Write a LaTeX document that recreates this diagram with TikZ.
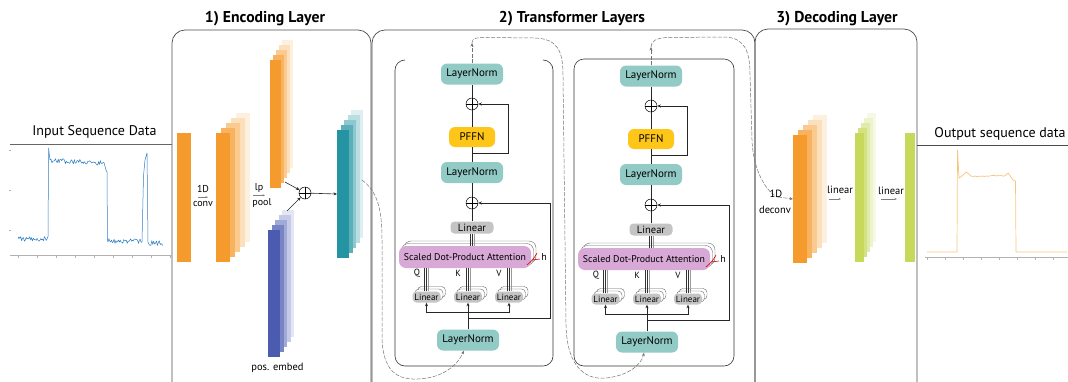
\documentclass[tikz,border=0pt]{standalone}
\usepackage{fontspec}
\setmainfont{PT Sans}
\usetikzlibrary{arrows.meta,positioning}

\definecolor{convorange}{HTML}{F59A2C}
\definecolor{posblue}{HTML}{4B5CB0}
\definecolor{encteal}{HTML}{2494A2}
\definecolor{lingreen}{HTML}{C6D95A}
\definecolor{normteal}{HTML}{92CAC6}
\definecolor{ffnyellow}{HTML}{FFC61A}
\definecolor{lingray}{HTML}{C4C4C4}
\definecolor{attnpink}{HTML}{D8A8D6}
\definecolor{sigblue}{HTML}{2F7DC1}
\definecolor{sigorange}{HTML}{F8C57C}

\tikzset{
  panel/.style={draw=black!70, line width=0.7pt, rounded corners=13pt},
  block/.style={draw=black!80, line width=0.6pt, rounded corners=10pt},
  bar/.style={inner sep=0pt, outer sep=0pt},
  lnorm/.style={fill=normteal, rounded corners=6pt, minimum width=62pt, minimum height=21pt, inner sep=0pt, font=\fontsize{11}{11}\selectfont},
  ffn/.style={fill=ffnyellow, rounded corners=6pt, minimum width=46pt, minimum height=20pt, inner sep=0pt, font=\fontsize{11}{11}\selectfont},
  lin/.style={fill=lingray, rounded corners=4pt, minimum width=43pt, minimum height=12pt, inner sep=0pt, font=\fontsize{10.5}{10}\selectfont},
  qkv/.style={lin, minimum width=28pt, minimum height=11pt, font=\fontsize{9}{9}\selectfont},
  head/.style={draw=black!60, fill=white, line width=0.4pt},
  attn/.style={fill=attnpink, rounded corners=7pt, minimum width=132pt, minimum height=22pt, inner sep=0pt, font=\fontsize{9.8}{10}\selectfont},
  add/.style={circle, draw, line width=0.5pt, minimum size=12pt, inner sep=0pt,
    path picture={\draw[line width=0.5pt] (path picture bounding box.north) -- (path picture bounding box.south)
      (path picture bounding box.west) -- (path picture bounding box.east);}},
  conn/.style={draw=black!85, line width=0.6pt},
  pair/.style={draw=black!80, line width=0.5pt},
  tip/.style={-{Stealth[length=3.5pt,width=3pt]}},
  smallarr/.style={draw=black!50, line width=0.4pt, -{Stealth[length=2.5pt,width=2pt]}},
  flow/.style={draw=black!55, line width=0.5pt, dash pattern=on 4pt off 1.5pt},
  lbl/.style={font=\fontsize{10}{10}\selectfont, inner sep=0pt},
  title/.style={font=\fontsize{15.7}{18}\selectfont\bfseries},
  axisline/.style={draw=black!30, line width=0.5pt},
  sig/.style={line width=0.5pt, line join=round},
}

% feature map stack: copies behind fade out towards the upper right
\newcommand{\featstack}[7]{% name, x, y, width, height, colour, x step
  \foreach \k/\m in {4/15,3/32,2/52,1/75}
    \fill[#6!\m!white] ({#2+#7*\k-#4/2},{#3-5*\k-#5/2}) rectangle ++(#4,#5);
  \node[bar, fill=#6, minimum width=#4pt, minimum height=#5pt] (#1) at (#2,#3) {};
}

\begin{document}
\begin{tikzpicture}[x=1pt, y=-1pt]
\useasboundingbox (0,0) rectangle (1068,381);
\clip (0,0) rectangle (1068,381);

% panels
\draw[panel] (172,30) rectangle (371,400);
\draw[panel] (372,30) rectangle (755,400);
\draw[panel] (755,29) rectangle (917,400);
\node[title] (enctitle) at (265,19) {1) Encoding Layer};
\node[title] (trftitle) at (572,19) {2) Transformer Layers};
\node[title] (dectitle) at (837,19) {3) Decoding Layer};

% input signal
\node[font=\fontsize{14}{16}\selectfont] (intitle) at (94.5,132) {Input Sequence Data};
\draw[draw=black!60, line width=0.5pt] (10,144) -- (172,144);
\draw[axisline] (10,255) -- (172,255);
\foreach \t in {18,37,...,170} \draw[axisline] (\t,255) -- (\t,257.5);
\foreach \t in {150,190,230} \draw[axisline] (8.5,\t) -- (11,\t);
\pgfmathsetseed{5}
\draw[sig, sigblue] plot[domain=18:48, samples=34] (\x,{239+2.5*rand})
  -- (48.6,148) -- (50,160)
  -- plot[domain=51:104, samples=60] (\x,{160.5+0.05*(\x-51)+2.5*rand})
  -- (106,170) -- (107,172) -- (107.5,240)
  -- plot[domain=108:142, samples=40] (\x,{241+2.5*rand})
  -- (143.5,176) -- (145,160) -- (147,153) -- (148,242)
  -- plot[domain=149:163, samples=16] (\x,{243+2.5*rand});

% encoding layer
\node[bar, fill=convorange, minimum width=14pt, minimum height=129pt] (raw) at (184,197.5) {};
\featstack{conv}{223}{197.5}{14}{129}{convorange}{5}
\featstack{pool}{275.5}{124}{11}{128}{convorange}{3}
\featstack{pos}{274}{293.5}{12}{127}{posblue}{3.5}
\node[add] (addpos) at (305,193) {};
\featstack{enc}{343}{194}{12}{128}{encteal}{3.5}

\node[lbl] (convtop) at (203,188.5) {1D};
\node[lbl] (convbot) at (203,203.5) {conv};
\draw[smallarr] ([xshift=-5pt,yshift=3.5pt]convbot.north) -- ([xshift=5pt,yshift=3.5pt]convbot.north);
\node[lbl] (pooltop) at (259,188) {lp};
\node[lbl] (poolbot) at (262,203) {pool};
\draw[smallarr] ([xshift=-9pt,yshift=3pt]poolbot.north) -- ([xshift=3pt,yshift=3pt]poolbot.north);
\node[lbl, font=\fontsize{10.5}{11}\selectfont] (postxt) at (277.5,368) {pos. embed};

\draw[conn, tip] ([xshift=4pt,yshift=6pt]pool.south east) -- (addpos);
\draw[conn, tip] ([xshift=7pt,yshift=19pt]pos.north east) -- (addpos);
\draw[conn, tip] (addpos) -- (enc.west);

% transformer blocks
\draw[block] (405,60) -- (395,60) -- (395,366) -- (553,366) -- (553,60) -- (543,60);
\draw[block] (574,59) rectangle (734,366);

\foreach \i/\dx/\dy in {1/0/0, 2/179/2} {
  \begin{scope}[shift={(\dx,\dy)}]
    \node[lnorm] (lnt\i) at (472,74) {LayerNorm};
    \node[add] (adt\i) at (472,104) {};
    \node[ffn] (ffn\i) at (472,137) {PFFN};
    \node[lnorm] (lnm\i) at (472,172.5) {LayerNorm};
    \node[add] (adm\i) at (472,203) {};
    \node[lin] (lno\i) at (472,227.5) {Linear};
    % stacked heads
    \foreach \h in {2,1} {
      \draw[head, rounded corners=7pt] ({399+2.5*\h},{246-2.5*\h}) rectangle ++(132,22);
      \draw[head, rounded corners=4pt] ({412.5+2.5*\h},{291.5-2.5*\h}) rectangle ++(28,11);
      \draw[head, rounded corners=4pt] ({454+2.5*\h},{291.5-2.5*\h}) rectangle ++(28,11);
      \draw[head, rounded corners=4pt] ({495+2.5*\h},{291.5-2.5*\h}) rectangle ++(28,11);
    }
    \node[attn] (att\i) at (465,257) {Scaled Dot-Product Attention};
    \node[lbl] (h\i) at (544,257) {h};
    \draw[red!80!black, line width=0.6pt] (527,265) .. controls (532,261) and (535,257) .. (537,253);
    \draw[red!80!black, line width=0.6pt] (532,260) -- (540,259);

    \node[qkv] (q\i) at (426.5,297) {Linear};
    \node[qkv] (k\i) at (468,297) {Linear};
    \node[qkv] (v\i) at (509,297) {Linear};
    \node[lbl, font=\fontsize{9}{9}\selectfont] (ql\i) at (417,273) {Q};
    \node[lbl, font=\fontsize{9}{9}\selectfont] (kl\i) at (458,273) {K};
    \node[lbl, font=\fontsize{9}{9}\selectfont] (vl\i) at (499,273) {V};
    % one line per head up into the attention
    \foreach \s/\c in {-1.8/80, 0.2/80, 2.2/40} {
      \draw[pair, draw=black!\c] ([xshift=\s pt]q\i.north) -- ([xshift=\s pt]q\i.north |- att\i.south);
      \draw[pair, draw=black!\c] ([xshift=\s pt]k\i.north) -- ([xshift=\s pt]k\i.north |- att\i.south);
      \draw[pair, draw=black!\c] ([xshift=\s pt]v\i.north) -- ([xshift=\s pt]v\i.north |- att\i.south);
      \draw[pair, draw=black!\c] ([xshift=\s pt]lno\i.south) -- ([xshift=\s pt]lno\i.south |- att\i.north);
    }

    \node[lnorm] (lnb\i) at (468,340) {LayerNorm};

    \draw[conn] (lno\i) -- (adm\i);
    \draw[conn] (adm\i) -- (lnm\i);
    \draw[conn] (lnm\i) -- (ffn\i);
    \draw[conn] (ffn\i) -- (adt\i);
    \draw[conn] (adt\i) -- (lnt\i);
    \coordinate (pf\i) at (472,153);
    \draw[conn, tip] (pf\i) -- ++(36,0) |- (adt\i.east);

    \draw[conn, tip] (lnb\i) -- (k\i);
    \coordinate (fork\i) at (468,312);
    \draw[conn, tip] (fork\i) -| (q\i.south);
    \draw[conn, tip] (fork\i) -| (v\i.south);
    \coordinate (res\i) at (468,318);
    \draw[conn, tip] (res\i) -- ++(82,0) |- (adm\i.east);
  \end{scope}
}

% data flow between the layers
\coordinate (encout) at (362,180);
\draw[flow, tip] (encout) .. controls (378,192) and (382,210) .. (382,240) -- (382,335)
  .. controls (382,372) and (398,380) .. (418,379) .. controls (442,378) and (457,366) .. ([xshift=-4pt]lnb1.south);
\coordinate (up1) at (472,43);
\draw[flow, tip] (lnt1.north) -- (up1);
\draw[flow, tip] (up1) .. controls (472,38) and (476,37.5) .. (488,37.5) -- (535,38)
  .. controls (557,39) and (563,50) .. (563,75) -- (566,325)
  .. controls (567,370) and (588,380) .. (606,378) .. controls (626,376) and (641,366) .. ([xshift=-3pt]lnb2.south);
\coordinate (up2) at (651,47);
\draw[flow, tip] (lnt2.north) -- (up2);
\draw[flow] (up2) .. controls (651,41) and (656,38) .. (668,37.5) -- (725,37)
  .. controls (744,38) and (750,50) .. (750,75) -- (752,140)
  .. controls (753,172) and (768,194) .. (778,197);

% decoding layer
\featstack{dec}{800}{199}{14}{128}{convorange}{5}
\draw[flow, tip] (778,197) -- (dec.west);
\featstack{lin}{859.5}{197.5}{9}{129}{lingreen}{3}
\node[bar, fill=lingreen, minimum width=10pt, minimum height=129pt] (out) at (910,197.5) {};

\node[lbl, font=\fontsize{10.5}{11}\selectfont] (dectop) at (776,194) {1D};
\node[lbl, font=\fontsize{10.5}{11}\selectfont] (decbot) at (775,210) {deconv};
\node[lbl, font=\fontsize{10.5}{11}\selectfont] (lintxt) at (840,190) {linear};
\draw[smallarr] ([xshift=-11pt,yshift=-5pt]lintxt.south) -- ([xshift=1pt,yshift=-5pt]lintxt.south);
\node[lbl, font=\fontsize{10.5}{11}\selectfont] (outtxt) at (891,191) {linear};
\draw[smallarr] ([xshift=-10pt,yshift=-4pt]outtxt.south) -- ([xshift=6pt,yshift=-4pt]outtxt.south);

% output signal
\node[font=\fontsize{14}{16}\selectfont] (outtitle) at (1000,134) {Output sequence data};
\draw[draw=black!70, line width=0.6pt] (917,145) -- (1068,145);
\draw[axisline] (925,257) -- (1068,257);
\foreach \t in {927,945,...,1067} \draw[axisline] (\t,257) -- (\t,259.5);
\draw[sig, sigorange, line width=0.7pt] (927,252) -- (957,252) -- (957.5,150) -- (959,178) -- (962,176) -- (966,172) -- (970,175)
  -- plot[domain=971:1005, samples=25] (\x,{176+0.6*rand})
  -- (1008,173) -- (1013,180) -- (1015.5,181) -- (1016,252) -- (1067,252);
\end{tikzpicture}
\end{document}
